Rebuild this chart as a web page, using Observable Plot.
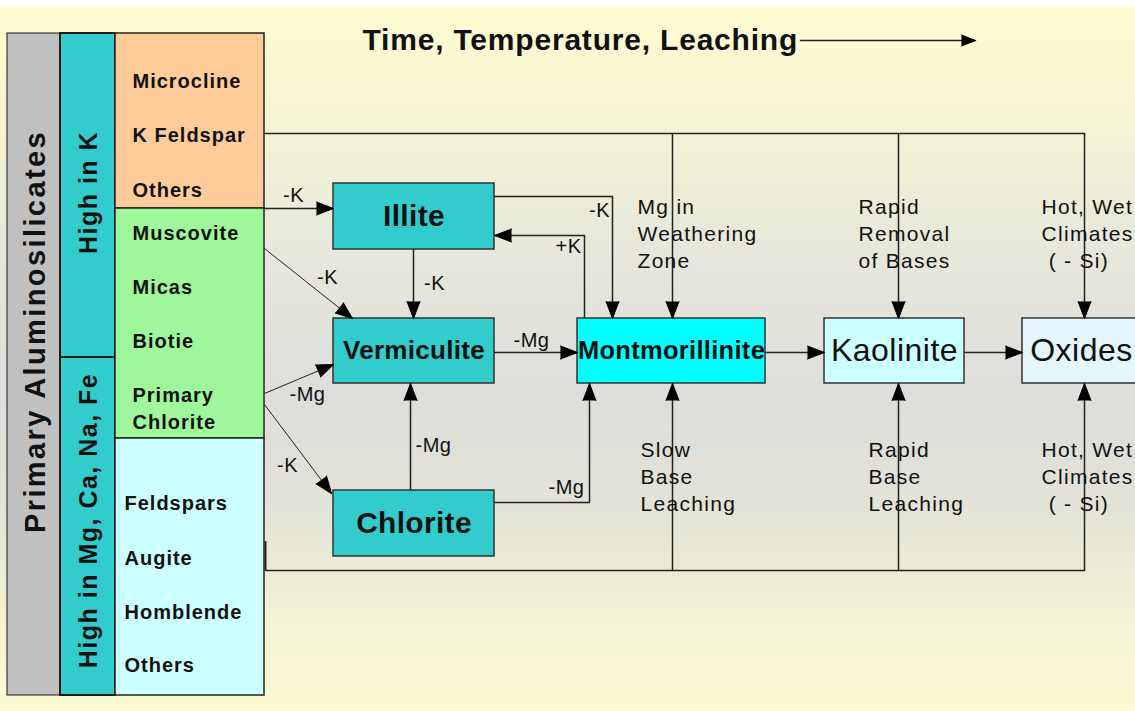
<!DOCTYPE html>
<html>
<head>
<meta charset="utf-8">
<script src="https://cdn.jsdelivr.net/npm/d3@7"></script>
<script src="https://cdn.jsdelivr.net/npm/@observablehq/plot@0.6"></script>
<style>
  html, body { margin: 0; padding: 0; background: #ffffff; overflow: hidden; }
  #chart svg { display: block; overflow: hidden; }
</style>
</head>
<body>
<div id="chart"></div>
<script>
// ---------------- data (texts) ----------------
const title = "Time, Temperature, Leaching";
const groupLabels = ["Primary Aluminosilicates", "High in K", "High in Mg, Ca, Na, Fe"];
const potassiumMinerals = ["Microcline", "K Feldspar", "Others"];
const micaMinerals = ["Muscovite", "Micas", "Biotie", "Primary\nChlorite"];
const ferroMinerals = ["Feldspars", "Augite", "Homblende", "Others"];
const products = ["Illite", "Vermiculite", "Chlorite", "Montmorillinite", "Kaolinite", "Oxides"];
const upperConditions = ["Mg in\nWeathering\nZone", "Rapid\nRemoval\nof Bases", "Hot, Wet\nClimates\n ( - Si)"];
const lowerConditions = ["Slow\nBase\nLeaching", "Rapid\nBase\nLeaching", "Hot, Wet\nClimates\n ( - Si)"];
const flowLabels = ["-K", "-K", "+K", "-K", "-K", "-Mg", "-K", "-Mg", "-Mg", "-Mg"];

// ---------------- layout (diagram units) ----------------
const groupBands = [
  {x1: 7, x2: 60, y1: 33, y2: 695, lx: 35, ly: 331},
  {x1: 60, x2: 115, y1: 33, y2: 357, lx: 88, ly: 192},
  {x1: 60, x2: 115, y1: 357, y2: 695, lx: 88, ly: 520}
];
const mineralBands = [
  {x1: 115, x2: 264, y1: 33, y2: 208},
  {x1: 115, x2: 264, y1: 208, y2: 438},
  {x1: 115, x2: 264, y1: 438, y2: 695}
];
const mineralColumnX = [132, 132, 124];
const mineralRowsY = [[79, 133, 188], [231, 285, 339, 406], [501, 556, 610, 663]];
const productBoxes = [
  {x1: 333, x2: 494, y1: 183, y2: 249},
  {x1: 333, x2: 494, y1: 318, y2: 383},
  {x1: 333, x2: 494, y1: 490, y2: 556},
  {x1: 577, x2: 765, y1: 318, y2: 383},
  {x1: 824, x2: 964, y1: 318, y2: 383},
  {x1: 1022, x2: 1140, y1: 318, y2: 383}
];
const upperConditionX = [637, 858, 1041], upperConditionY = 232;
const lowerConditionX = [640, 868, 1041], lowerConditionY = 475;
const flowLabelPos = [[293, 195], [599, 210], [568, 246], [434, 283], [327, 277],
                      [531, 340], [287, 465], [307, 394], [433, 445], [566, 487]];
const titlePos = [362, 40];

// connectors: polylines; head = arrowhead at the last point
const connectors = [
  {points: [[800, 40], [975, 40]], head: "small"},
  {points: [[264, 133], [1084, 133]]},
  {points: [[672, 133], [672, 318]], head: "big"},
  {points: [[898, 133], [898, 318]], head: "big"},
  {points: [[1084, 133], [1084, 318]], head: "big"},
  {points: [[264, 208], [333, 208]], head: "big"},
  {points: [[494, 196], [612, 196], [612, 318]], head: "big"},
  {points: [[584, 318], [584, 235], [494, 235]], head: "big"},
  {points: [[413, 249], [413, 318]], head: "big"},
  {points: [[264, 248], [352, 318]], head: "big", thin: true},
  {points: [[264, 393], [333, 364]], head: "big", thin: true},
  {points: [[264, 404], [331, 493]], head: "big", thin: true},
  {points: [[494, 352], [577, 352]], head: "big"},
  {points: [[410, 490], [410, 383]], head: "big"},
  {points: [[494, 502], [589, 502], [589, 383]], head: "big"},
  {points: [[765, 352], [824, 352]], head: "big"},
  {points: [[964, 352], [1022, 352]], head: "big"},
  {points: [[265, 570], [1084, 570]]},
  {points: [[672, 570], [672, 383]], head: "big"},
  {points: [[898, 570], [898, 383]], head: "big"},
  {points: [[1084, 570], [1084, 383]], head: "big"}
];
const stubs = [{x: 265, y1: 541, y2: 570}];

// ---------------- styles ----------------
const groupFills = ["#c0c0c0", "#33cccc", "#33cccc"];
const mineralFills = ["#ffcc99", "#9ef79b", "#ccffff"];
const productFills = ["#33cccc", "#33cccc", "#33cccc", "#00ffff", "#ccffff", "#e2f6fb"];
const FONT = "'Liberation Sans', Arial, Helvetica, sans-serif";
const INK = "#111";
// letter spacing for the text marks, in drawing order
const textSpacing = ["0.8px", "2.4px", "1.5px", "1px", "0.3px", "0.5px", "1.3px", "0.5px"];

// ---------------- derived tables ----------------
const groupRows = groupBands.map((b, i) => ({...b, label: groupLabels[i], fill: groupFills[i]}));
const mineralBoxRows = mineralBands.map((b, i) => ({...b, fill: mineralFills[i]}));
const mineralLists = [potassiumMinerals, micaMinerals, ferroMinerals];
const mineralRows = mineralLists.flatMap((list, c) =>
  list.map((label, r) => ({label, x: mineralColumnX[c], y: mineralRowsY[c][r]})));
const productRows = productBoxes.map((b, i) => ({
  ...b, label: products[i], fill: productFills[i], cx: (b.x1 + b.x2) / 2, cy: (b.y1 + b.y2) / 2,
  bold: i < 4, size: [30, 26, 30, 25.5, 32, 32][i]
}));
const conditionRows = [
  ...upperConditions.map((label, i) => ({label, x: upperConditionX[i], y: upperConditionY})),
  ...lowerConditions.map((label, i) => ({label, x: lowerConditionX[i], y: lowerConditionY}))
];
const flowRows = flowLabels.map((label, i) => ({label, x: flowLabelPos[i][0], y: flowLabelPos[i][1]}));
const lineRows = (thin) => connectors
  .map((c, id) => ({...c, id}))
  .filter(c => !!c.thin === thin)
  .flatMap(c => c.points.map(([x, y]) => ({id: c.id, x, y})));
const heads = connectors.filter(c => c.head).map(c => {
  const p = c.points;
  const [xa, ya] = p[p.length - 2], [xb, yb] = p[p.length - 1];
  return {x: xb, y: yb, angle: Math.atan2(xb - xa, -(yb - ya)) * 180 / Math.PI, kind: c.head};
});

const W = 1135, H = 711;
const bg = "background: linear-gradient(to bottom, #ffffff 0px, #ffffff 6px, #fdfcd2 7px, #f6f5d1 110px, #e8e8dc 240px, #dddddb 400px, #e2e2d8 500px, #f3f2d3 620px, #fdfbd3 711px);";

const chart = Plot.plot({
  width: W,
  height: H,
  margin: 0,
  x: {domain: [0, W], range: [0, W], axis: null},
  y: {domain: [0, H], range: [0, H], axis: null},
  style: bg + `font-family: ${FONT}; color: ${INK};`,
  marks: [
    // left classification columns
    Plot.rect(groupRows, {x1: "x1", x2: "x2", y1: "y1", y2: "y2", fill: "fill", stroke: "#1a1a1a", strokeWidth: (d, i) => i === 0 ? 1 : 2}),
    Plot.rect(mineralBoxRows, {x1: "x1", x2: "x2", y1: "y1", y2: "y2", fill: "fill", stroke: "#222", strokeWidth: 1.5}),
    Plot.ruleX(stubs, {x: "x", y1: "y1", y2: "y2", stroke: "#222", strokeWidth: 2}),
    // connectors
    Plot.line(lineRows(false), {x: "x", y: "y", z: "id", stroke: "#222", strokeWidth: 1.5}),
    Plot.line(lineRows(true), {x: "x", y: "y", z: "id", stroke: "#222", strokeWidth: 1}),
    // product boxes
    Plot.rect(productRows, {x1: "x1", x2: "x2", y1: "y1", y2: "y2", fill: "fill", stroke: "#333", strokeWidth: 1.5}),
    // arrowheads
    Plot.vector(heads.filter(d => d.kind === "big"), {x: "x", y: "y", rotate: "angle", length: 17, r: 6.5, shape: "spike", anchor: "end", fill: "#000", stroke: "#000", strokeWidth: 1}),
    Plot.vector(heads.filter(d => d.kind === "small"), {x: "x", y: "y", rotate: "angle", length: 14, r: 5.5, shape: "spike", anchor: "end", fill: "#000", stroke: "#000", strokeWidth: 1}),
    // texts
    Plot.text([{label: title, x: titlePos[0], y: titlePos[1]}], {x: "x", y: "y", text: "label", textAnchor: "start", fontSize: 30, fontWeight: "bold", fill: INK, fontFamily: FONT}),
    Plot.text(groupRows.slice(0, 1), {x: "lx", y: "ly", text: "label", rotate: -90, fontSize: 29, fontWeight: "bold", fill: INK, fontFamily: FONT}),
    Plot.text(groupRows.slice(1), {x: "lx", y: "ly", text: "label", rotate: -90, fontSize: 25, fontWeight: "bold", fill: INK, fontFamily: FONT}),
    Plot.text(mineralRows, {x: "x", y: "y", text: "label", textAnchor: "start", fontSize: 20, fontWeight: "bold", lineHeight: 1.35, fill: INK, fontFamily: FONT}),
    Plot.text(productRows.filter(d => d.bold), {x: "cx", y: "cy", text: "label", fontSize: "size", fontWeight: "bold", fill: INK, fontFamily: FONT}),
    Plot.text(productRows.filter(d => !d.bold), {x: "cx", y: "cy", text: "label", fontSize: "size", fill: INK, fontFamily: FONT}),
    Plot.text(conditionRows, {x: "x", y: "y", text: "label", textAnchor: "start", fontSize: 21, lineHeight: 1.29, fill: INK, fontFamily: FONT}),
    Plot.text(flowRows, {x: "x", y: "y", text: "label", fontSize: 20, fill: INK, fontFamily: FONT})
  ]
});
// apply letter spacing to the text marks (in order)
chart.querySelectorAll('g[aria-label="text"]').forEach((g, i) => {
  if (textSpacing[i]) g.style.letterSpacing = textSpacing[i];
});
document.getElementById("chart").appendChild(chart);
</script>
</body>
</html>
